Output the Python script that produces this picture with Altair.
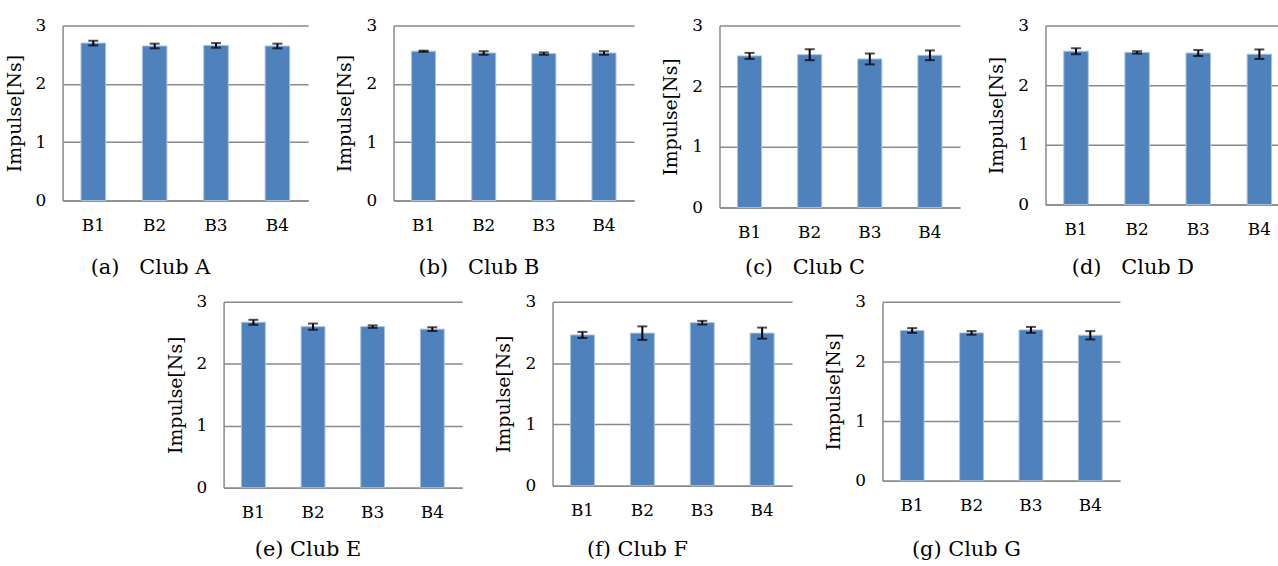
import altair as alt
import pandas as pd

# ---- data ----
bats = ["B1", "B2", "B3", "B4"]
captions = ["(a)\u00a0\u00a0\u00a0Club A", "(b)\u00a0\u00a0\u00a0Club B", "(c)\u00a0\u00a0\u00a0Club C",
            "(d)\u00a0\u00a0\u00a0Club D", "(e) Club E", "(f) Club F", "(g) Club G"]

mean_A = [2.70, 2.65, 2.66, 2.65]
err_A = [0.04, 0.04, 0.04, 0.04]
mean_B = [2.56, 2.53, 2.52, 2.53]
err_B = [0.01, 0.03, 0.02, 0.03]
mean_C = [2.50, 2.52, 2.45, 2.51]
err_C = [0.05, 0.09, 0.09, 0.08]
mean_D = [2.57, 2.55, 2.54, 2.52]
err_D = [0.05, 0.02, 0.05, 0.08]
mean_E = [2.67, 2.60, 2.60, 2.56]
err_E = [0.04, 0.05, 0.02, 0.03]
mean_F = [2.46, 2.49, 2.66, 2.49]
err_F = [0.05, 0.11, 0.03, 0.09]
mean_G = [2.52, 2.48, 2.53, 2.44]
err_G = [0.04, 0.03, 0.05, 0.07]

y_ticks = [0, 1, 2, 3]

FONT = "DejaVu Serif"
GRAY = "#8a8a8a"
BLUE = "#4f81bd"
EDGE = "#a9c1de"


def panel(caption, means, errs, w, h, cap_offset):
    df = pd.DataFrame({
        "bat": bats,
        "mean": means,
        "lo": [m - e for m, e in zip(means, errs)],
        "hi": [m + e for m, e in zip(means, errs)],
    })
    base = alt.Chart(df)
    x = alt.X("bat:N", sort=bats, title=None,
              scale=alt.Scale(paddingInner=0.6, paddingOuter=0.3),
              axis=alt.Axis(labelAngle=0, labelPadding=17, ticks=False,
                            domainColor=GRAY, domainWidth=1.5, grid=False,
                            labelFont=FONT, labelFontSize=17, labelColor="black"))
    yscale = alt.Scale(domain=[0, 3], nice=False)
    yaxis = alt.Axis(values=y_ticks, format="d", grid=True, gridColor=GRAY, gridWidth=1.5,
                     domainColor=GRAY, domainWidth=1.5, ticks=False,
                     labelPadding=17, titlePadding=11,
                     labelFont=FONT, labelFontSize=17, labelColor="black",
                     titleFont=FONT, titleFontSize=19, titleFontWeight="normal",
                     titleColor="black")
    bars = base.mark_bar(color=BLUE, stroke=EDGE, strokeWidth=1).encode(
        x=x, y=alt.Y("mean:Q", title="Impulse[Ns]", scale=yscale, axis=yaxis))
    rule = base.mark_rule(color="black", strokeWidth=2).encode(
        x=x, y=alt.Y("lo:Q", title="Impulse[Ns]", scale=yscale, axis=yaxis), y2="hi:Q")
    cap_lo = base.mark_tick(color="black", size=10, thickness=2).encode(
        x=x, y=alt.Y("lo:Q", title="Impulse[Ns]", scale=yscale, axis=yaxis))
    cap_hi = base.mark_tick(color="black", size=10, thickness=2).encode(
        x=x, y=alt.Y("hi:Q", title="Impulse[Ns]", scale=yscale, axis=yaxis))
    return alt.layer(bars, rule, cap_lo, cap_hi).properties(
        width=w, height=h,
        title=alt.TitleParams(text=caption, orient="bottom", anchor="middle", dx=-35,
                              offset=cap_offset, font=FONT, fontSize=21,
                              fontWeight="normal", color="black"))


top_sizes = [(247, 176), (242, 176), (242, 183), (246, 180)]
bot_sizes = [(240, 187), (241, 185), (239, 180)]
top_means = [(mean_A, err_A), (mean_B, err_B), (mean_C, err_C), (mean_D, err_D)]
bot_means = [(mean_E, err_E), (mean_F, err_F), (mean_G, err_G)]

top_h = max(h for _, h in top_sizes)
bot_h = max(h for _, h in bot_sizes)

top_panels = [panel(captions[i], top_means[i][0], top_means[i][1], w, h, 17 + top_h - h)
              for i, (w, h) in enumerate(top_sizes)]
bot_panels = [panel(captions[4 + i], bot_means[i][0], bot_means[i][1], w, h, 19 + bot_h - h)
              for i, (w, h) in enumerate(bot_sizes)]

spacer = alt.Chart(pd.DataFrame({"v": [0]})).mark_point(opacity=0).properties(width=71, height=10)

top_row = alt.hconcat(*top_panels, spacing=28)
bot_row = alt.hconcat(spacer, *bot_panels, spacing=33)

chart = alt.vconcat(top_row, bot_row, spacing=15).properties(
    padding={"left": 5, "top": 15, "right": -12, "bottom": 0},
    background="white",
).configure_view(stroke=None)

chart.save("out.html", embed_options={"renderer": "svg", "actions": False})
